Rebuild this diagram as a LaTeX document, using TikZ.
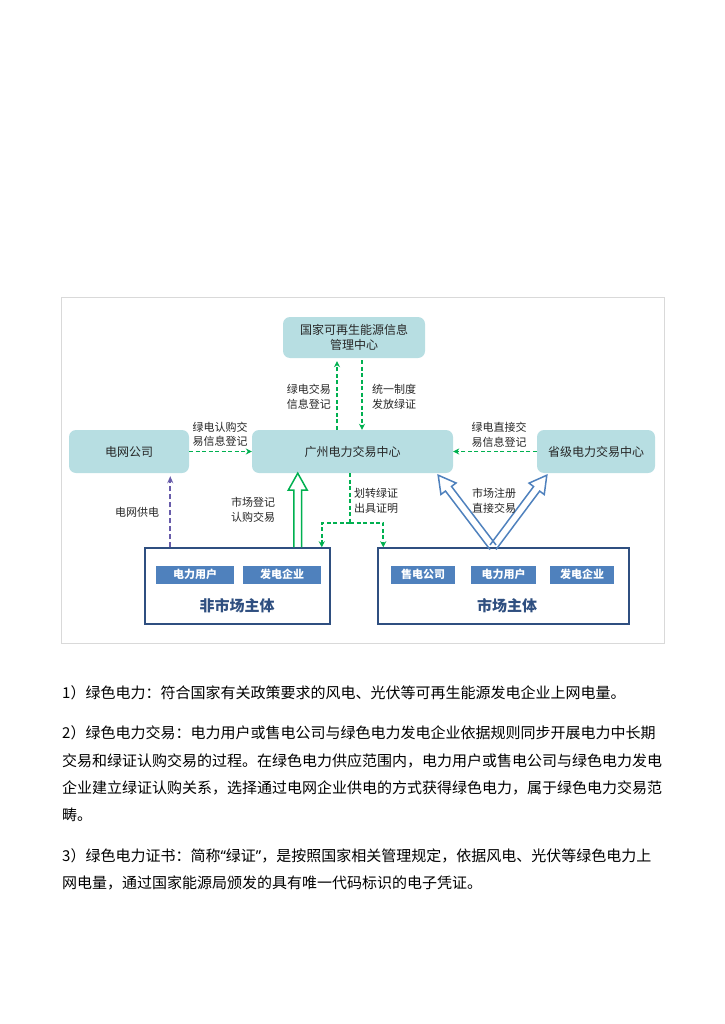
\documentclass[tikz,border=0pt]{standalone}
\usepackage{fontspec}
\setmainfont{Noto Sans CJK SC}
\newfontfamily\quotefont{Noto Sans}
\usetikzlibrary{calc,arrows.meta}

\definecolor{boxteal}{RGB}{183,222,226}
\definecolor{flowgreen}{RGB}{0,176,80}
\definecolor{linkblue}{RGB}{79,129,189}
\definecolor{subjectnavy}{RGB}{47,79,128}
\definecolor{supplypurple}{RGB}{104,92,170}
\definecolor{framegray}{RGB}{217,217,217}
\definecolor{labelgray}{RGB}{38,38,38}

% hollow block arrow: colour, base, tip
\newcommand{\hollowarrow}[3]{%
  \coordinate (hb) at ($(#3)!17pt!(#2)$);
  \draw[#1, line width=1.5pt, line join=miter]
    ($(#2)!3.8pt!90:(#3)$) -- ($(hb)!3.8pt!90:(#3)$) -- ($(hb)!9.5pt!90:(#3)$) -- (#3)
    -- ($(hb)!9.5pt!-90:(#3)$) -- ($(hb)!3.8pt!-90:(#3)$) -- ($(#2)!3.8pt!-90:(#3)$);
}

\begin{document}
\begin{tikzpicture}[x=1pt,y=-1pt]
  \tikzstyle{centre}=[rounded corners=7pt, fill=boxteal, inner sep=0pt, align=center,
    text=labelgray, font=\fontsize{12}{15}\selectfont];
  \tikzstyle{subject}=[draw=subjectnavy, line width=1.5pt, fill=white, inner sep=0pt];
  \tikzstyle{member}=[fill=linkblue, text=white, inner sep=0pt, minimum height=18pt,
    font=\fontsize{11}{11}\selectfont\bfseries];
  \tikzstyle{note}=[inner sep=0pt, text=labelgray, font=\fontsize{11}{14.5}\selectfont];
  \tikzstyle{gline}=[flowgreen, line width=1.7pt, dash pattern=on 4pt off 2.5pt];
  \tikzstyle{gdash}=[gline, -{Stealth[length=6pt,width=6pt]}];
  \tikzstyle{para}=[anchor=west, inner sep=0pt, font=\fontsize{15}{15}\selectfont];

  \useasboundingbox (0,0) rectangle (724,1024);
  \draw[framegray, line width=1pt] (61,297) rectangle (664,643);

  % centres
  \node[centre, minimum width=142pt, minimum height=41pt] (nrec) at (354,337.5) {国家可再生能源信息\\管理中心};
  \node[centre, minimum width=120pt, minimum height=43pt] (grid) at (129,451.5) {电网公司};
  \node[centre, minimum width=201pt, minimum height=43pt] (gz) at (352.5,451.5) {广州电力交易中心};
  \node[centre, minimum width=118pt, minimum height=43pt] (prov) at (596,451.5) {省级电力交易中心};

  % subjects
  \node[subject, minimum width=185pt, minimum height=76pt] (nonmkt) at (237.5,586) {};
  \node[subject, minimum width=251pt, minimum height=76pt] (mkt) at (503.5,586) {};
  \node[member, minimum width=78pt] (nuser) at (195,574.5) {电力用户};
  \node[member, minimum width=78pt] (ngen) at (282,574.5) {发电企业};
  \node[member, minimum width=64pt] (mretail) at (423,574.5) {售电公司};
  \node[member, minimum width=65pt] (muser) at (503.5,574.5) {电力用户};
  \node[member, minimum width=64pt] (mgen) at (582,574.5) {发电企业};
  \node[inner sep=0pt, text=subjectnavy, font=\fontsize{15}{15}\selectfont\bfseries] (nontitle) at (237,606) {非市场主体};
  \node[inner sep=0pt, text=subjectnavy, font=\fontsize{15}{15}\selectfont\bfseries] (mkttitle) at (507,606) {市场主体};

  % information flows
  \draw[gdash, shorten >=3pt] ([xshift=-15.5pt]gz.north) -- ([xshift=-15.5pt]gz.north |- nrec.south);
  \draw[gdash, shorten <=2pt] ([xshift=9.5pt]gz.north |- nrec.south) -- ([xshift=9.5pt]gz.north);
  \draw[gdash] (grid.east) -- (gz.west);
  \draw[gdash] (prov.west) -- (gz.east);
  \node[note, align=right, anchor=east] (regnote) at (331,397) {绿电交易\\信息登记};
  \node[note, align=left, anchor=west] (issuenote) at (372,397) {统一制度\\发放绿证};
  \node[note, align=center] (gridnote) at (220,434.5) {绿电认购交\\易信息登记};
  \node[note, align=center] (provnote) at (499,435) {绿电直接交\\易信息登记};

  % supply
  \draw[supplypurple, line width=1.6pt, dash pattern=on 5pt off 3pt, shorten >=3pt,
    -{Stealth[length=7pt,width=6pt]}] ([xshift=26pt]nonmkt.north west) -- ([xshift=26pt]nonmkt.north west |- grid.south);
  \node[note] (supplynote) at (137,512) {电网供电};

  % certificate transfer
  \coordinate (split) at ($(gz.south)+(-2.5,50)$);
  \draw[gline] (gz.south -| split) -- (split);
  \draw[gdash] (split) -| ([xshift=-9pt]nonmkt.north east);
  \draw[gdash] (split) -| ([xshift=6pt]mkt.north west);
  \node[note, align=left, anchor=west] (transnote) at (354,501) {划转绿证\\出具证明};

  % trading
  \coordinate (nonbase) at ([xshift=-33pt]nonmkt.north east);
  \hollowarrow{flowgreen}{nonbase}{nonbase |- gz.south}
  \node[note, align=center] (buynote) at (253,510) {市场登记\\认购交易};
  \coordinate (mktbase) at ([xshift=-10.5pt]mkt.north);
  \coordinate (gztip) at ([xshift=-15pt,yshift=-2pt]gz.south east);
  \coordinate (provtip) at ([xshift=10pt,yshift=-2pt]prov.south west);
  \hollowarrow{linkblue}{mktbase}{gztip}
  \hollowarrow{linkblue}{mktbase}{provtip}
  \node[note, align=center] (mktnote) at (494,501) {市场注册\\直接交易};

  % definitions
  \node[para] (p1) at (62,693) {1）绿色电力：符合国家有关政策要求的风电、光伏等可再生能源发电企业上网电量。};
  \node[para] (p2) at (62,733) {2）绿色电力交易：电力用户或售电公司与绿色电力发电企业依据规则同步开展电力中长期};
  \node[para] (p3) at (62,761) {交易和绿证认购交易的过程。在绿色电力供应范围内，电力用户或售电公司与绿色电力发电};
  \node[para] (p4) at (62,788) {企业建立绿证认购关系，选择通过电网企业供电的方式获得绿色电力，属于绿色电力交易范};
  \node[para] (p5) at (62,815) {畴。};
  \node[para] (p6) at (62,856) {3）绿色电力证书：简称{\quotefont “}绿证{\quotefont ”}，是按照国家相关管理规定，依据风电、光伏等绿色电力上};
  \node[para] (p7) at (62,883) {网电量，通过国家能源局颁发的具有唯一代码标识的电子凭证。};
\end{tikzpicture}
\end{document}
